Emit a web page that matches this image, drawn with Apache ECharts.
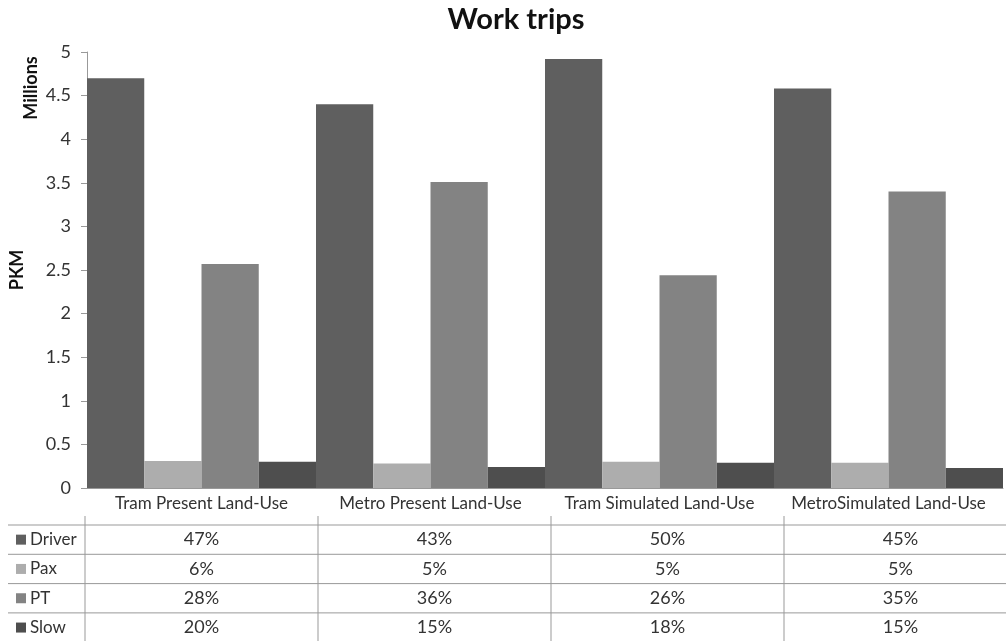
<!DOCTYPE html>
<html>
<head>
<meta charset="utf-8">
<title>Work trips</title>
<script src="https://cdn.jsdelivr.net/npm/echarts@6/dist/echarts.min.js"></script>
<style>
  * { margin: 0; padding: 0; }
  body { background: #fff; }
  #main { width: 1006px; height: 641px; }
</style>
</head>
<body>
<div id="main"></div>
<script>
  // data (PKM, millions)
  var categories = ['Tram Present Land-Use', 'Metro Present Land-Use', 'Tram Simulated Land-Use', 'MetroSimulated Land-Use'];
  var seriesNames = ['Driver', 'Pax', 'PT', 'Slow'];
  var driver = [4.70, 4.40, 4.92, 4.58];
  var pax = [0.31, 0.28, 0.30, 0.29];
  var pt = [2.57, 3.51, 2.44, 3.40];
  var slow = [0.30, 0.24, 0.29, 0.23];
  // shares shown in the data table
  var driverShare = ['47%', '43%', '50%', '45%'];
  var paxShare = ['6%', '5%', '5%', '5%'];
  var ptShare = ['28%', '36%', '26%', '35%'];
  var slowShare = ['20%', '15%', '18%', '15%'];

  var colors = ['#5f5f5f', '#adadad', '#838383', '#4e4e4e'];
  var font = 'Lato, "Open Sans", sans-serif';
  var txt = '#333';
  var lineCol = '#999';

  var values = [driver, pax, pt, slow];
  var shares = [driverShare, paxShare, ptShare, slowShare];

  // table under the chart
  var tableTop = 525, rowH = 29.3, colLeft = 85, colW = 233;
  var g = [];
  for (let i = 0; i <= 4; i++) {
    g.push({ type: 'line', shape: { x1: 8, y1: tableTop + i * rowH, x2: 1006, y2: tableTop + i * rowH },
      style: { stroke: lineCol, lineWidth: 1 } });
  }
  for (let j = 0; j < 4; j++) {
    g.push({ type: 'line', shape: { x1: colLeft + j * colW, y1: 516, x2: colLeft + j * colW, y2: 641 },
      style: { stroke: lineCol, lineWidth: 1 } });
  }
  for (let i = 0; i < seriesNames.length; i++) {
    let cy = tableTop + i * rowH + rowH / 2;
    g.push({ type: 'rect', shape: { x: 16, y: cy - 5, width: 10, height: 10 }, style: { fill: colors[i] } });
    g.push({ type: 'text', x: 30, y: cy, style: { text: seriesNames[i], font: '17px ' + font, fill: txt,
      textAlign: 'left', textVerticalAlign: 'middle' } });
    for (let j = 0; j < categories.length; j++) {
      g.push({ type: 'text', x: colLeft + j * colW + colW / 2, y: cy, style: { text: shares[i][j],
        font: '18px ' + font, fill: txt, textAlign: 'center', textVerticalAlign: 'middle' } });
    }
  }
  g.push({ type: 'text', x: 516, y: 20, style: { text: 'Work trips', font: 'bold 29px ' + font, fill: '#111',
    textAlign: 'center', textVerticalAlign: 'middle' } });
  g.push({ type: 'text', x: 31, y: 88, rotation: Math.PI / 2, style: { text: 'Millions', font: 'bold 18px ' + font,
    fill: '#111', textAlign: 'center', textVerticalAlign: 'middle' } });

  var myChart = echarts.init(document.getElementById('main'));
  var option = {
    animation: false,
    color: colors,
    grid: { left: 87, right: 3, top: 52, bottom: 153, containLabel: false, outerBoundsMode: 'none' },
    xAxis: {
      type: 'category',
      data: categories,
      axisLine: { lineStyle: { color: lineCol } },
      axisTick: { show: false },
      axisLabel: { color: txt, fontSize: 17, fontFamily: font, margin: 7, interval: 0 }
    },
    yAxis: {
      type: 'value',
      min: 0, max: 5, interval: 0.5,
      name: 'PKM', nameLocation: 'middle', nameGap: 61,
      nameTextStyle: { color: '#111', fontWeight: 'bold', fontSize: 18, fontFamily: font },
      axisLine: { show: true, lineStyle: { color: lineCol } },
      axisTick: { show: true, length: 6, lineStyle: { color: lineCol } },
      splitLine: { show: false },
      axisLabel: { color: txt, fontSize: 18, fontFamily: font, margin: 16 }
    },
    series: seriesNames.map(function (n, i) {
      return { name: n, type: 'bar', data: values[i], barGap: '0%', barCategoryGap: '0%' };
    }),
    graphic: g
  };
  myChart.setOption(option);
</script>
</body>
</html>
